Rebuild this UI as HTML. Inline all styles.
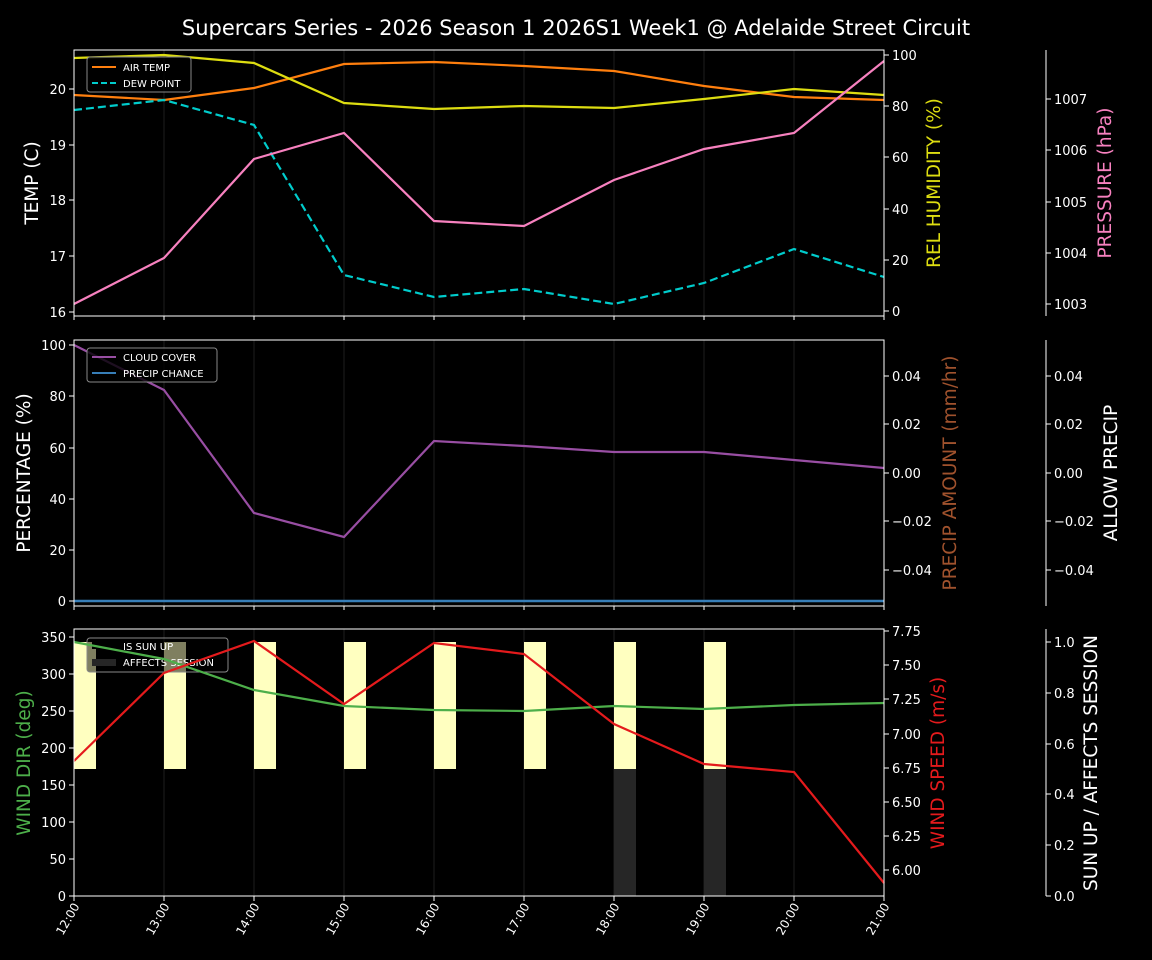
<!DOCTYPE html>
<html><head><meta charset="utf-8"><style>
html,body{margin:0;padding:0;background:#000;}
svg{display:block;font-family:"DejaVu Sans","Liberation Sans",sans-serif;}
</style></head><body>
<svg width="1152" height="960" viewBox="0 0 1152 960" xmlns="http://www.w3.org/2000/svg">
<rect width="1152" height="960" fill="#000"/>
<text x="576" y="35" fill="#fff" font-size="21" text-anchor="middle">Supercars Series - 2026 Season 1 2026S1 Week1 @ Adelaide Street Circuit</text>

<g stroke="#141414" stroke-width="1.5">
<line x1="164" y1="50" x2="164" y2="316"/><line x1="254" y1="50" x2="254" y2="316"/><line x1="344" y1="50" x2="344" y2="316"/><line x1="434" y1="50" x2="434" y2="316"/><line x1="524" y1="50" x2="524" y2="316"/><line x1="614" y1="50" x2="614" y2="316"/><line x1="704" y1="50" x2="704" y2="316"/><line x1="794" y1="50" x2="794" y2="316"/>
<line x1="164" y1="340" x2="164" y2="606"/><line x1="254" y1="340" x2="254" y2="606"/><line x1="344" y1="340" x2="344" y2="606"/><line x1="434" y1="340" x2="434" y2="606"/><line x1="524" y1="340" x2="524" y2="606"/><line x1="614" y1="340" x2="614" y2="606"/><line x1="704" y1="340" x2="704" y2="606"/><line x1="794" y1="340" x2="794" y2="606"/>
<line x1="164" y1="629" x2="164" y2="896"/><line x1="254" y1="629" x2="254" y2="896"/><line x1="344" y1="629" x2="344" y2="896"/><line x1="434" y1="629" x2="434" y2="896"/><line x1="524" y1="629" x2="524" y2="896"/><line x1="614" y1="629" x2="614" y2="896"/><line x1="704" y1="629" x2="704" y2="896"/><line x1="794" y1="629" x2="794" y2="896"/>
</g>

<!-- PANEL 1 -->
<polyline fill="none" stroke="#ff7f0e" stroke-width="2.2" points="74,95 164,100 254,88 344,64 434,62 524,66 614,71 704,86 794,97 884,100"/>
<polyline fill="none" stroke="#00cccc" stroke-width="2.2" stroke-dasharray="8,4" points="74,110 164,100 254,125 344,275 434,297 524,289 614,304 704,283 794,249 884,277"/>
<polyline fill="none" stroke="#dddd11" stroke-width="2.2" points="74,58 164,55 254,63 344,103 434,109 524,106 614,108 704,99 794,89 884,95"/>
<polyline fill="none" stroke="#f781bf" stroke-width="2.2" points="74,304 164,258 254,159 344,133 434,221 524,226 614,180 704,149 794,133 884,61"/>
<rect x="74" y="50" width="810" height="266" fill="none" stroke="#fff" stroke-width="1"/>
<g fill="#fff" font-size="13" text-anchor="end">
<text x="66" y="317">16</text><text x="66" y="261">17</text><text x="66" y="205">18</text><text x="66" y="150">19</text><text x="66" y="94">20</text>
</g>
<g stroke="#fff"><line x1="69" y1="312" x2="74" y2="312"/><line x1="69" y1="256" x2="74" y2="256"/><line x1="69" y1="200" x2="74" y2="200"/><line x1="69" y1="145" x2="74" y2="145"/><line x1="69" y1="89" x2="74" y2="89"/>
<line x1="884" y1="311" x2="889" y2="311"/><line x1="884" y1="260" x2="889" y2="260"/><line x1="884" y1="209" x2="889" y2="209"/><line x1="884" y1="157" x2="889" y2="157"/><line x1="884" y1="106" x2="889" y2="106"/><line x1="884" y1="55" x2="889" y2="55"/>
<line x1="1046" y1="50" x2="1046" y2="316"/>
<line x1="1046" y1="304" x2="1051" y2="304"/><line x1="1046" y1="253" x2="1051" y2="253"/><line x1="1046" y1="202" x2="1051" y2="202"/><line x1="1046" y1="150" x2="1051" y2="150"/><line x1="1046" y1="99" x2="1051" y2="99"/>
</g>
<g fill="#fff" font-size="13">
<text x="892" y="316">0</text><text x="892" y="265">20</text><text x="892" y="214">40</text><text x="892" y="162">60</text><text x="892" y="111">80</text><text x="892" y="60">100</text>
<text x="1054" y="309">1003</text><text x="1054" y="258">1004</text><text x="1054" y="207">1005</text><text x="1054" y="155">1006</text><text x="1054" y="104">1007</text>
</g>
<text transform="translate(38,183) rotate(-90)" fill="#fff" font-size="18.5" text-anchor="middle">TEMP (C)</text>
<text transform="translate(940,183) rotate(-90)" fill="#dddd11" font-size="18.5" text-anchor="middle">REL HUMIDITY (%)</text>
<text transform="translate(1111,183) rotate(-90)" fill="#f781bf" font-size="18.5" text-anchor="middle">PRESSURE (hPa)</text>
<rect x="87" y="57" width="104" height="35" rx="3" fill="#000" fill-opacity="0.8" stroke="#888"/>
<line x1="92" y1="67" x2="116" y2="67" stroke="#ff7f0e" stroke-width="2"/>
<line x1="92" y1="83" x2="116" y2="83" stroke="#00cccc" stroke-width="2" stroke-dasharray="6,3"/>
<text x="123" y="71" fill="#fff" font-size="10">AIR TEMP</text><text x="123" y="87" fill="#fff" font-size="10">DEW POINT</text>

<!-- PANEL 2 -->
<polyline fill="none" stroke="#984ea3" stroke-width="2.2" points="74,345 164,390 254,513 344,537 434,441 524,446 614,452 704,452 794,460 884,468"/>
<line x1="74" y1="601" x2="884" y2="601" stroke="#377eb8" stroke-width="2.5"/>
<rect x="74" y="340" width="810" height="266" fill="none" stroke="#fff"/>
<g fill="#fff" font-size="13" text-anchor="end">
<text x="66" y="606">0</text><text x="66" y="555">20</text><text x="66" y="504">40</text><text x="66" y="453">60</text><text x="66" y="401">80</text><text x="66" y="350">100</text>
</g>
<g stroke="#fff">
<line x1="69" y1="601" x2="74" y2="601"/><line x1="69" y1="550" x2="74" y2="550"/><line x1="69" y1="499" x2="74" y2="499"/><line x1="69" y1="448" x2="74" y2="448"/><line x1="69" y1="396" x2="74" y2="396"/><line x1="69" y1="345" x2="74" y2="345"/>
<line x1="884" y1="570" x2="889" y2="570"/><line x1="884" y1="521" x2="889" y2="521"/><line x1="884" y1="473" x2="889" y2="473"/><line x1="884" y1="424" x2="889" y2="424"/><line x1="884" y1="376" x2="889" y2="376"/>
<line x1="1046" y1="340" x2="1046" y2="606"/>
<line x1="1046" y1="570" x2="1051" y2="570"/><line x1="1046" y1="521" x2="1051" y2="521"/><line x1="1046" y1="473" x2="1051" y2="473"/><line x1="1046" y1="424" x2="1051" y2="424"/><line x1="1046" y1="376" x2="1051" y2="376"/>
</g>
<g fill="#fff" font-size="13">
<text x="892" y="575">−0.04</text><text x="892" y="526">−0.02</text><text x="892" y="478">0.00</text><text x="892" y="429">0.02</text><text x="892" y="381">0.04</text>
<text x="1054" y="575">−0.04</text><text x="1054" y="526">−0.02</text><text x="1054" y="478">0.00</text><text x="1054" y="429">0.02</text><text x="1054" y="381">0.04</text>
</g>
<text transform="translate(30,473) rotate(-90)" fill="#fff" font-size="18.5" text-anchor="middle">PERCENTAGE (%)</text>
<text transform="translate(956,473) rotate(-90)" fill="#a0522d" font-size="18.5" text-anchor="middle">PRECIP AMOUNT (mm/hr)</text>
<text transform="translate(1117,473) rotate(-90)" fill="#fff" font-size="18.5" text-anchor="middle">ALLOW PRECIP</text>
<rect x="87" y="348" width="130" height="34" rx="3" fill="#000" fill-opacity="0.8" stroke="#888"/>
<line x1="92" y1="357" x2="116" y2="357" stroke="#984ea3" stroke-width="2"/>
<line x1="92" y1="373" x2="116" y2="373" stroke="#377eb8" stroke-width="2"/>
<text x="123" y="361" fill="#fff" font-size="10">CLOUD COVER</text><text x="123" y="377" fill="#fff" font-size="10">PRECIP CHANCE</text>

<!-- PANEL 3 -->
<g fill="#ffffc0">
<rect x="74" y="642" width="22" height="127"/><rect x="164" y="642" width="22" height="127"/><rect x="254" y="642" width="22" height="127"/><rect x="344" y="642" width="22" height="127"/><rect x="434" y="642" width="22" height="127"/><rect x="524" y="642" width="22" height="127"/><rect x="614" y="642" width="22" height="127"/><rect x="704" y="642" width="22" height="127"/>
</g>
<g fill="#262626"><rect x="614" y="769" width="22" height="127"/><rect x="704" y="769" width="22" height="127"/></g>
<rect x="87" y="638" width="141" height="34" rx="3" fill="#000" fill-opacity="0.5" stroke="#888"/>
<rect x="92" y="642" width="24" height="7" fill="#000"/>
<rect x="92" y="659" width="24" height="7" fill="#262626"/>
<text x="123" y="650" fill="#fff" font-size="10">IS SUN UP</text><text x="123" y="666" fill="#fff" font-size="10">AFFECTS SESSION</text>
<polyline fill="none" stroke="#4daf4a" stroke-width="2.2" points="74,642 164,659 254,690 344,706 434,710 524,711 614,706 704,709 794,705 884,703"/>
<polyline fill="none" stroke="#e41a1c" stroke-width="2.2" points="74,761 164,673 254,641 344,704 434,643 524,654 614,724 704,764 794,772 884,883"/>
<rect x="74" y="629" width="810" height="267" fill="none" stroke="#fff"/>
<g fill="#fff" font-size="13" text-anchor="end">
<text x="66" y="901">0</text><text x="66" y="864">50</text><text x="66" y="827">100</text><text x="66" y="790">150</text><text x="66" y="753">200</text><text x="66" y="716">250</text><text x="66" y="679">300</text><text x="66" y="642">350</text>
</g>
<g stroke="#fff">
<line x1="69" y1="896" x2="74" y2="896"/><line x1="69" y1="859" x2="74" y2="859"/><line x1="69" y1="822" x2="74" y2="822"/><line x1="69" y1="785" x2="74" y2="785"/><line x1="69" y1="748" x2="74" y2="748"/><line x1="69" y1="711" x2="74" y2="711"/><line x1="69" y1="674" x2="74" y2="674"/><line x1="69" y1="637" x2="74" y2="637"/>
<line x1="884" y1="870" x2="889" y2="870"/><line x1="884" y1="836" x2="889" y2="836"/><line x1="884" y1="802" x2="889" y2="802"/><line x1="884" y1="768" x2="889" y2="768"/><line x1="884" y1="734" x2="889" y2="734"/><line x1="884" y1="699" x2="889" y2="699"/><line x1="884" y1="665" x2="889" y2="665"/><line x1="884" y1="631" x2="889" y2="631"/>
<line x1="1046" y1="629" x2="1046" y2="896"/>
<line x1="1046" y1="896" x2="1051" y2="896"/><line x1="1046" y1="845" x2="1051" y2="845"/><line x1="1046" y1="794" x2="1051" y2="794"/><line x1="1046" y1="744" x2="1051" y2="744"/><line x1="1046" y1="693" x2="1051" y2="693"/><line x1="1046" y1="642" x2="1051" y2="642"/>
</g>
<g fill="#fff" font-size="13">
<text x="892" y="875">6.00</text><text x="892" y="841">6.25</text><text x="892" y="807">6.50</text><text x="892" y="773">6.75</text><text x="892" y="739">7.00</text><text x="892" y="704">7.25</text><text x="892" y="670">7.50</text><text x="892" y="636">7.75</text>
<text x="1054" y="901">0.0</text><text x="1054" y="850">0.2</text><text x="1054" y="799">0.4</text><text x="1054" y="749">0.6</text><text x="1054" y="698">0.8</text><text x="1054" y="647">1.0</text>
</g>
<text transform="translate(30,763) rotate(-90)" fill="#4daf4a" font-size="18.5" text-anchor="middle">WIND DIR (deg)</text>
<text transform="translate(944,763) rotate(-90)" fill="#e41a1c" font-size="18.5" text-anchor="middle">WIND SPEED (m/s)</text>
<text transform="translate(1097,763) rotate(-90)" fill="#fff" font-size="18.5" text-anchor="middle">SUN UP / AFFECTS SESSION</text>

<g stroke="#fff">
<line x1="74" y1="896" x2="74" y2="901"/><line x1="164" y1="896" x2="164" y2="901"/><line x1="254" y1="896" x2="254" y2="901"/><line x1="344" y1="896" x2="344" y2="901"/><line x1="434" y1="896" x2="434" y2="901"/><line x1="524" y1="896" x2="524" y2="901"/><line x1="614" y1="896" x2="614" y2="901"/><line x1="704" y1="896" x2="704" y2="901"/><line x1="794" y1="896" x2="794" y2="901"/><line x1="884" y1="896" x2="884" y2="901"/>
<line x1="74" y1="316" x2="74" y2="320"/><line x1="164" y1="316" x2="164" y2="320"/><line x1="254" y1="316" x2="254" y2="320"/><line x1="344" y1="316" x2="344" y2="320"/><line x1="434" y1="316" x2="434" y2="320"/><line x1="524" y1="316" x2="524" y2="320"/><line x1="614" y1="316" x2="614" y2="320"/><line x1="704" y1="316" x2="704" y2="320"/><line x1="794" y1="316" x2="794" y2="320"/><line x1="884" y1="316" x2="884" y2="320"/>
<line x1="74" y1="606" x2="74" y2="610"/><line x1="164" y1="606" x2="164" y2="610"/><line x1="254" y1="606" x2="254" y2="610"/><line x1="344" y1="606" x2="344" y2="610"/><line x1="434" y1="606" x2="434" y2="610"/><line x1="524" y1="606" x2="524" y2="610"/><line x1="614" y1="606" x2="614" y2="610"/><line x1="704" y1="606" x2="704" y2="610"/><line x1="794" y1="606" x2="794" y2="610"/><line x1="884" y1="606" x2="884" y2="610"/>
</g>
<g fill="#fff" font-size="12" text-anchor="end">
<text transform="translate(80,906) rotate(-60)">12:00</text>
<text transform="translate(170,906) rotate(-60)">13:00</text>
<text transform="translate(260,906) rotate(-60)">14:00</text>
<text transform="translate(350,906) rotate(-60)">15:00</text>
<text transform="translate(440,906) rotate(-60)">16:00</text>
<text transform="translate(530,906) rotate(-60)">17:00</text>
<text transform="translate(620,906) rotate(-60)">18:00</text>
<text transform="translate(710,906) rotate(-60)">19:00</text>
<text transform="translate(800,906) rotate(-60)">20:00</text>
<text transform="translate(890,906) rotate(-60)">21:00</text>
</g>
</svg>
</body></html>
